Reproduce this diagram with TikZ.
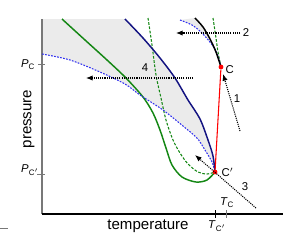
\documentclass[tikz,border=0pt]{standalone}
\usepackage{fontspec}
\setmainfont{Liberation Sans}
\usetikzlibrary{arrows.meta}
\definecolor{navy}{RGB}{20,20,130}
\definecolor{darkgreen}{RGB}{20,135,20}
\definecolor{dotblue}{RGB}{50,50,240}
\definecolor{fillgray}{RGB}{235,235,235}
\definecolor{axisgray}{RGB}{120,120,120}
\tikzset{
	navyline/.style={draw=navy, line width=1.1pt},
	greenline/.style={draw=darkgreen, line width=1.1pt},
	greendash/.style={draw=darkgreen, line width=0.8pt, dash pattern=on 2pt off 1.2pt},
	bluedot/.style={draw=dotblue, line width=0.8pt, dash pattern=on 1.3pt off 1pt},
	patharrow/.style={line width=0.8pt, dash pattern=on 0.8pt off 0.8pt, -{Latex[length=5pt, width=4pt]}},
	critpoint/.style={circle, fill=red, inner sep=0pt, minimum size=3.6pt},
	lbl/.style={font=\fontsize{8.5}{10}\selectfont, inner sep=1pt},
	axislbl/.style={font=\fontsize{11.3}{13}\selectfont, inner sep=0pt}
}

\begin{document}
\begin{tikzpicture}[x=0.75pt, y=-0.75pt]
	\useasboundingbox (0,0) rectangle (293,244);
	% shaded regions
	\fill[fillgray] (42,19) -- (125,19) -- plot[smooth] coordinates {(125,19) (143,38) (160,58) (175,78) (188,100) (200,119) (208,140) (213,156) (215,172)}
		-- plot[smooth] coordinates {(215,172) (212,162) (205,150) (197,138) (183,126) (163,110) (140,95) (125,84) (100,72) (70,60) (42,54)} -- cycle;
	\fill[fillgray] (180,20) -- (195,18) -- plot[smooth] coordinates {(195,18) (203,27) (210,39) (216,52) (221,67)}
		-- plot[smooth] coordinates {(221,67) (218,56) (213,46) (202,33) (192,25) (180,20)} -- cycle;
	% axes
	\coordinate (O) at (42,214);
	\coordinate (ytop) at (42,19);
	\coordinate (xend) at (283,214);
	\draw[axisgray, line width=0.9pt] (O) -- (ytop);
	\draw[line width=0.8pt] (O) -- (xend);
	\draw[axisgray, line width=0.6pt] (0,228) -- (8,228);
	% ticks
	\draw[axisgray, line width=0.6pt] (38,64) -- (45,64);
	\draw[axisgray, line width=0.6pt] (37,174) -- (45,174);
	\draw[line width=0.6pt] (215.5,210) -- (215.5,218);
	\draw[axisgray, line width=0.6pt] (226,210) -- (226,218);
	\node[lbl] (Pc) at (28,65) {\textit{P}\textsubscript{C}};
	\node[lbl] (Pcc) at (30,170) {\textit{P}\textsubscript{C$'$}};
	\node[lbl] (Tc) at (227,203) {\textit{T}\textsubscript{C}};
	\node[lbl] (Tcc) at (217,226) {\textit{T}\textsubscript{C$'$}};
	\node[axislbl, rotate=90] (ylbl) at (29,119) {pressure};
	\node[axislbl] (xlbl) at (148,226) {temperature};
	% phase boundaries
	\draw[greenline] plot[smooth] coordinates {(62,19) (85,40) (107,60) (126,78) (143,97) (153,113) (160,130) (166,148) (172,165) (182,177) (196,182) (207,180) (215,172)};
	\draw[greendash] plot[smooth] coordinates {(148,18) (152,45) (156,75) (161,98) (166,120) (173,140) (180,153) (188,164) (198,172) (207,174) (215,172)};
	\draw[greendash] plot[smooth] coordinates {(213,18) (216,38) (218,52) (221,67)};
	\draw[bluedot] plot[smooth] coordinates {(42,54) (70,60) (100,72) (125,84) (140,95) (163,110) (183,126) (197,138) (205,150) (212,162) (215,172)};
	\draw[bluedot] plot[smooth] coordinates {(180,20) (192,25) (202,33) (213,46) (218,56) (221,67)};
	\draw[navyline] plot[smooth] coordinates {(125,19) (143,38) (160,58) (175,78) (188,100) (200,119) (208,140) (213,156) (215,172)};
	\draw[line width=1.1pt] plot[smooth] coordinates {(195,18) (203,27) (210,39) (216,52) (221,67)};
	% critical points
	\node[critpoint] (C) at (221,67) {};
	\node[critpoint] (Cc) at (215,172) {};
	\draw[red, line width=0.8pt] (C) -- (Cc);
	\node[lbl, anchor=west] (Clbl) at (224,70) {C};
	\node[lbl, anchor=west] (Cclbl) at (220,172) {C$'$};
	% paths
	\coordinate (s1) at (240,131);
	\coordinate (s2) at (240,33);
	\coordinate (e2) at (176,33);
	\coordinate (s3) at (256,208);
	\coordinate (e3) at (195,155);
	\coordinate (s4) at (193,78);
	\coordinate (e4) at (86,78);
	\draw[patharrow, shorten >=3.5pt] (s1) -- (C);
	\draw[patharrow] (s2) -- (e2);
	\draw[patharrow] (s3) -- (e3);
	\draw[patharrow] (s4) -- (e4);
	\node[lbl] (n1) at (237,99) {1};
	\node[lbl] (n2) at (246,33) {2};
	\node[lbl] (n3) at (245,187) {3};
	\node[lbl] (n4) at (145,68) {4};
\end{tikzpicture}
\end{document}
